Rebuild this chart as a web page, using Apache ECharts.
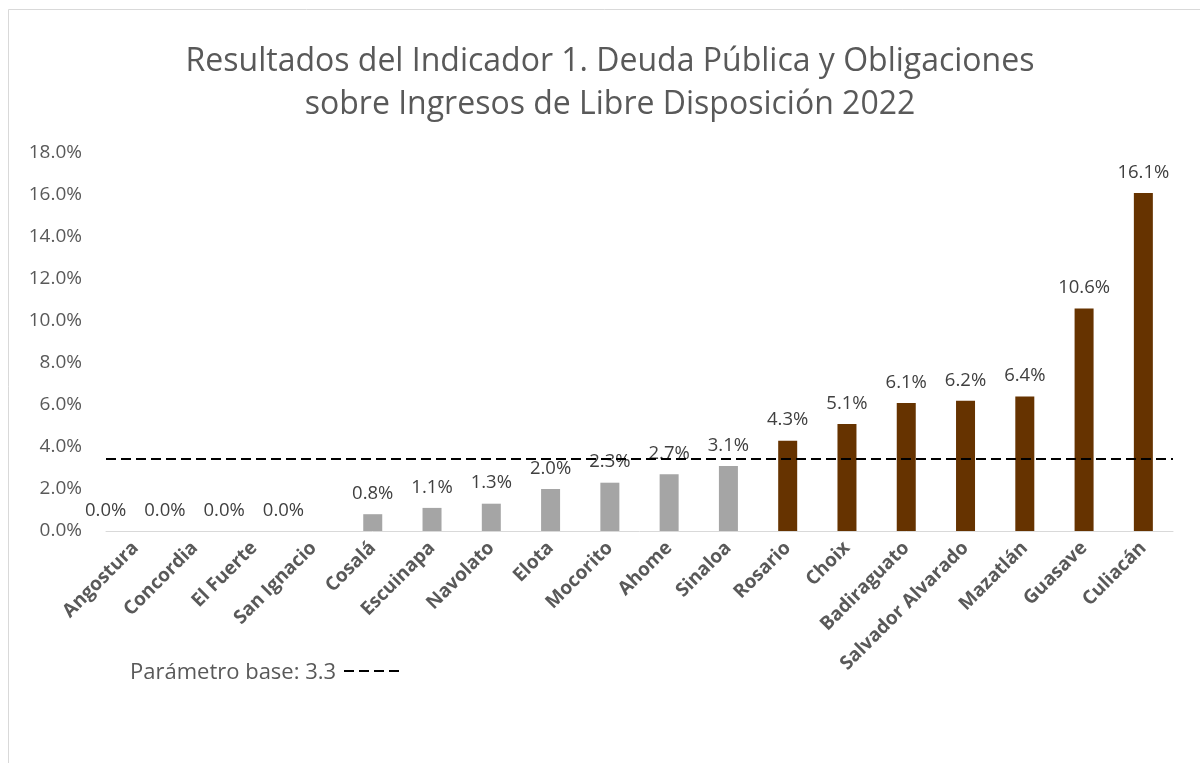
<!DOCTYPE html>
<html>
<head>
<meta charset="utf-8">
<script src="https://cdn.jsdelivr.net/npm/echarts@6/dist/echarts.min.js"></script>
<style>
  html, body { margin:0; padding:0; background:#fff; }
  #chart { width:1200px; height:763px; }
</style>
</head>
<body>
<div id="chart"></div>
<script>
// municipios, ordenados de menor a mayor
var municipios = ['Angostura','Concordia','El Fuerte','San Ignacio','Cosalá','Escuinapa','Navolato','Elota','Mocorito','Ahome','Sinaloa','Rosario','Choix','Badiraguato','Salvador Alvarado','Mazatlán','Guasave','Culiacán'];
var valores = [0.0, 0.0, 0.0, 0.0, 0.8, 1.1, 1.3, 2.0, 2.3, 2.7, 3.1, 4.3, 5.1, 6.1, 6.2, 6.4, 10.6, 16.1];
var parametroBase = 3.45;   // posicion de la linea punteada
var yTicks = [0, 2, 4, 6, 8, 10, 12, 14, 16, 18];

var GRIS = '#A5A5A5';
var CAFE = '#663300';
var TEXTO = '#595959';

var chart = echarts.init(document.getElementById('chart'));

var barras = [];
for (var i = 0; i < valores.length; i++) {
    var item = {
        value: valores[i],
        itemStyle: { color: valores[i] > parametroBase ? CAFE : GRIS }
    };
    if (valores[i] === 0) {
        item.label = { offset: [-30, 0] };
    }
    barras.push(item);
}

var option = {
    animation: false,
    backgroundColor: '#fff',
    title: {
        text: 'Resultados del Indicador 1. Deuda Pública y Obligaciones\nsobre Ingresos de Libre Disposición 2022',
        left: 605,
        textAlign: 'center',
        top: 35,
        textStyle: {
            fontFamily: 'Open Sans',
            fontSize: 32,
            fontWeight: 'normal',
            color: TEXTO,
            lineHeight: 43
        }
    },
    grid: {
        left: 106,
        right: 27,
        top: 153,
        bottom: 232
    },
    xAxis: {
        type: 'category',
        data: municipios,
        axisLine: { lineStyle: { color: '#D9D9D9', width: 1 } },
        axisTick: { show: false },
        axisLabel: {
            interval: 0,
            rotate: 45,
            margin: 14,
            fontFamily: 'Open Sans',
            fontSize: 19,
            fontWeight: 'bold',
            color: TEXTO
        }
    },
    yAxis: {
        type: 'value',
        min: 0,
        max: yTicks[yTicks.length - 1],
        interval: 2,
        axisLine: { show: false },
        axisTick: { show: false },
        splitLine: { show: false },
        axisLabel: {
            margin: 24,
            fontFamily: 'Open Sans',
            fontSize: 19,
            color: TEXTO,
            formatter: function (v) { return v.toFixed(1) + '%'; }
        }
    },
    series: [
        {
            type: 'bar',
            data: barras,
            barWidth: 19,
            label: {
                show: true,
                position: 'top',
                distance: 11,
                fontFamily: 'Open Sans',
                fontSize: 18.5,
                color: '#404040',
                formatter: function (p) { return p.value.toFixed(1) + '%'; }
            },
            markLine: {
                silent: true,
                symbol: 'none',
                label: { show: false },
                lineStyle: { color: '#000', type: [10, 5], width: 2 },
                data: [{ yAxis: parametroBase }]
            }
        }
    ],
    graphic: [
        {
            type: 'rect',
            shape: { x: 8.5, y: 9.5, width: 1200, height: 770 },
            style: { fill: null, stroke: '#D9D9D9', lineWidth: 1 },
            silent: true
        },
        {
            type: 'text',
            left: 130,
            top: 662,
            style: {
                text: 'Parámetro base: 3.3',
                fontFamily: 'Open Sans',
                fontSize: 22,
                fill: TEXTO
            }
        },
        {
            type: 'line',
            shape: { x1: 344, y1: 671, x2: 404, y2: 671 },
            style: { stroke: '#000', lineWidth: 2, lineDash: [10, 5] }
        }
    ]
};

chart.setOption(option);
</script>
</body>
</html>
